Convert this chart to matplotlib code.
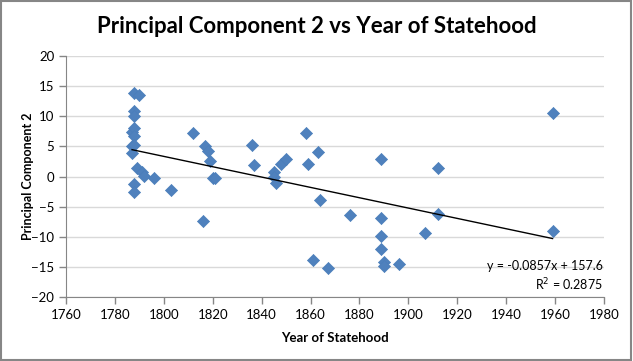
import matplotlib
matplotlib.use('Agg')
import matplotlib.pyplot as plt
from matplotlib.patches import Rectangle
import numpy as np

plt.rcParams['font.family'] = ['Lato', 'DejaVu Sans']

# year of statehood and principal component 2
years = [1787, 1787, 1787,
         1788, 1788, 1788, 1788, 1788, 1788, 1788, 1788,
         1789, 1790, 1791, 1792, 1796,
         1803, 1812, 1816, 1817, 1818, 1819, 1820, 1821,
         1836, 1837,
         1845, 1845, 1846, 1848, 1850,
         1858, 1859, 1861, 1863, 1864, 1867, 1876,
         1889, 1889, 1889, 1889, 1890, 1890,
         1896, 1907, 1912, 1912, 1959, 1959]
pc2 = [7.4, 5.0, 3.9,
       13.8, 10.9, 10.1, 8.1, 6.8, 5.3, -1.2, -2.6,
       1.4, 13.6, 0.8, 0.05, -0.2,
       -2.2, 7.3, -7.3, 5.1, 4.2, 2.6, -0.2, -0.3,
       5.2, 1.9,
       0.8, 0.0, -1.0, 2.1, 2.9,
       7.3, 2.1, -13.9, 4.1, -3.9, -15.1, -6.3,
       2.9, -6.8, -9.8, -12.1, -14.1, -14.8,
       -14.5, -9.3, 1.4, -6.2, 10.5, -9.0]

# linear trendline shown on the chart
slope = -0.0857
intercept = 157.6
r2 = 0.2875

xticks = list(range(1760, 1981, 20))
yticks = list(range(-20, 21, 5))

fig = plt.figure(figsize=(6.33, 3.61), dpi=100)
ax = fig.add_axes([0.1043, 0.177, 0.8497, 0.668])

ax.scatter(years, pc2, marker='D', s=38, color='#4F81BD', edgecolors='#4A7EBB',
           linewidths=0.5, zorder=3)

xs = np.array([min(years), max(years)])
ax.plot(xs, slope * xs + intercept, color='black', lw=1, zorder=4)

ax.set_xlim(1760, 1980)
ax.set_ylim(-20, 20)
ax.set_xticks(xticks)
ax.set_yticks(yticks)
ax.grid(axis='y', color='#D9D9D9', lw=1)
ax.set_axisbelow(True)
for s in ['top', 'right']:
    ax.spines[s].set_visible(False)
for s in ['left', 'bottom']:
    ax.spines[s].set_color('#868686')
ax.tick_params(colors='#868686', length=5, width=1, labelsize=9.5, labelcolor='black')

ax.set_xlabel('Year of Statehood', fontsize=9.5, fontweight='bold', labelpad=8)
ax.set_ylabel('Principal Component 2', fontsize=9, fontweight='bold')
ax.yaxis.set_label_coords(-0.06, 0.5)

fig.suptitle('Principal Component 2 vs Year of Statehood', fontsize=16,
             fontweight='bold', y=0.955)

ax.text(0.9985, 0.085, 'y = -0.0857x + 157.6\nR$^2$ = %.4f' % r2,
        transform=ax.transAxes, ha='right', va='center', fontsize=9,
        linespacing=1.35, multialignment='right')

fig.patches.append(Rectangle((0.001, 0.002), 0.996, 0.995, transform=fig.transFigure,
                             fill=False, edgecolor='#868686', lw=1.5))

fig.savefig('out.png', dpi=100)
